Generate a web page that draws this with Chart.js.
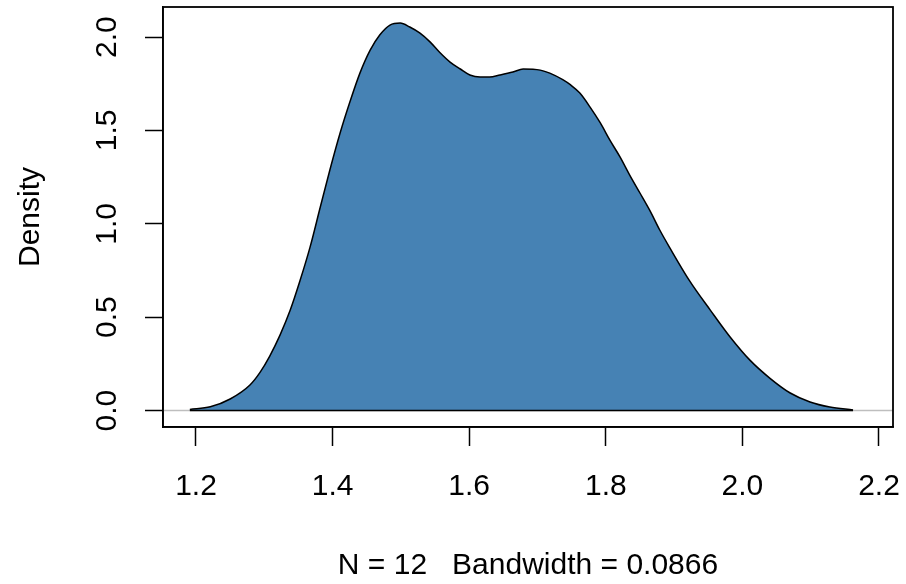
<!DOCTYPE html>
<html>
<head>
<meta charset="utf-8">
<script src="https://cdn.jsdelivr.net/npm/chart.js@4.4.1/dist/chart.umd.min.js"></script>
<style>
  html, body { margin: 0; padding: 0; background: #fff; }
  #wrap { width: 906px; height: 584px; }
</style>
</head>
<body>
<div id="wrap"><canvas id="densityChart"></canvas></div>
<script>
// Kernel density estimate (N = 12)
const densX = [1.191, 1.221, 1.250, 1.279, 1.294, 1.308, 1.323, 1.338, 1.352, 1.367,
               1.382, 1.396, 1.411, 1.426, 1.440, 1.455, 1.469, 1.484, 1.499, 1.513,
               1.528, 1.543, 1.557, 1.572, 1.587, 1.601, 1.616, 1.630, 1.645, 1.664,
               1.679, 1.704, 1.718, 1.737, 1.748, 1.762, 1.777, 1.792, 1.806, 1.821,
               1.835, 1.850, 1.865, 1.879, 1.894, 1.923, 1.953, 1.982, 2.011, 2.040,
               2.070, 2.099, 2.128, 2.162];
const densY = [0.006, 0.020, 0.062, 0.137, 0.206, 0.292, 0.404, 0.538, 0.692, 0.875,
               1.090, 1.288, 1.486, 1.660, 1.807, 1.930, 2.011, 2.064, 2.075, 2.054,
               2.021, 1.973, 1.917, 1.866, 1.829, 1.797, 1.786, 1.786, 1.797, 1.813,
               1.829, 1.823, 1.807, 1.772, 1.745, 1.700, 1.625, 1.540, 1.448, 1.357,
               1.261, 1.165, 1.068, 0.967, 0.870, 0.693, 0.538, 0.394, 0.270, 0.174,
               0.094, 0.046, 0.019, 0.003];
const xTicks = [1.2, 1.4, 1.6, 1.8, 2.0, 2.2];
const yTicks = [0.0, 0.5, 1.0, 1.5, 2.0];
const xLabel = 'N = 12   Bandwidth = 0.0866';
const yLabel = 'Density';

const FONT = { family: '"Liberation Sans", Arial, sans-serif', size: 30 };

// keep tick labels from pushing the plot box inwards
function fixBox(scale, w, h) {
    if (w) scale.width = w;
    if (h) scale.height = h;
    scale.paddingTop = 0;
    scale.paddingBottom = 0;
    scale.paddingLeft = 0;
    scale.paddingRight = 0;
}

// gray zero line underneath, polygon bottom edge and box on top
const rFrame = {
    id: 'rFrame',
    beforeDatasetsDraw(chart) {
        const {ctx, chartArea: a, scales: {y}} = chart;
        const y0 = y.getPixelForValue(0);
        ctx.save();
        ctx.strokeStyle = '#bebebe';
        ctx.lineWidth = 1.5;
        ctx.beginPath();
        ctx.moveTo(a.left, y0);
        ctx.lineTo(a.right, y0);
        ctx.stroke();
        ctx.restore();
    },
    afterDatasetsDraw(chart) {
        const {ctx, chartArea: a, scales: {x, y}} = chart;
        const y0 = y.getPixelForValue(0);
        ctx.save();
        ctx.strokeStyle = '#000';
        ctx.lineWidth = 1.5;
        ctx.beginPath();
        ctx.moveTo(x.getPixelForValue(densX[0]), y0);
        ctx.lineTo(x.getPixelForValue(densX[densX.length - 1]), y0);
        ctx.stroke();
        ctx.lineWidth = 1.8;
        ctx.strokeRect(a.left, a.top, a.right - a.left, a.bottom - a.top);
        ctx.restore();
    }
};

new Chart(document.getElementById('densityChart'), {
    type: 'line',
    data: {
        datasets: [{
            data: densX.map((v, i) => ({x: v, y: densY[i]})),
            borderColor: '#000',
            borderWidth: 1.5,
            backgroundColor: '#4682B4',
            fill: 'origin',
            pointRadius: 0,
            cubicInterpolationMode: 'monotone'
        }]
    },
    options: {
        responsive: true,
        maintainAspectRatio: false,
        animation: false,
        events: [],
        layout: { padding: { left: 0, top: 7, right: 13, bottom: 0 } },
        plugins: { legend: { display: false }, tooltip: { enabled: false } },
        scales: {
            x: {
                type: 'linear',
                min: 1.1517,
                max: 2.2205,
                afterFit(scale) { fixBox(scale, 0, 157); },
                afterBuildTicks(scale) { scale.ticks = xTicks.map(v => ({value: v})); },
                ticks: {
                    color: '#000',
                    font: FONT,
                    padding: 23,
                    maxRotation: 0,
                    callback: v => v.toFixed(1)
                },
                grid: { drawOnChartArea: false, tickLength: 19, tickColor: '#000', tickWidth: 1.5 },
                border: { display: true, color: '#000', width: 1.5 },
                title: { display: true, text: xLabel, color: '#000', font: FONT, padding: { top: 0, bottom: 0 } }
            },
            y: {
                type: 'linear',
                min: -0.088,
                max: 2.161,
                afterFit(scale) { fixBox(scale, 163, 0); },
                afterBuildTicks(scale) { scale.ticks = yTicks.map(v => ({value: v})); },
                ticks: {
                    color: '#000',
                    font: FONT,
                    padding: 16,
                    minRotation: 90,
                    maxRotation: 90,
                    crossAlign: 'center',
                    callback: v => v.toFixed(1)
                },
                grid: { drawOnChartArea: false, tickLength: 18, tickColor: '#000', tickWidth: 1.5 },
                border: { display: true, color: '#000', width: 1.5 },
                title: { display: true, text: yLabel, color: '#000', font: FONT, padding: { top: 13, bottom: 0 } }
            }
        }
    },
    plugins: [rFrame]
});
</script>
</body>
</html>
